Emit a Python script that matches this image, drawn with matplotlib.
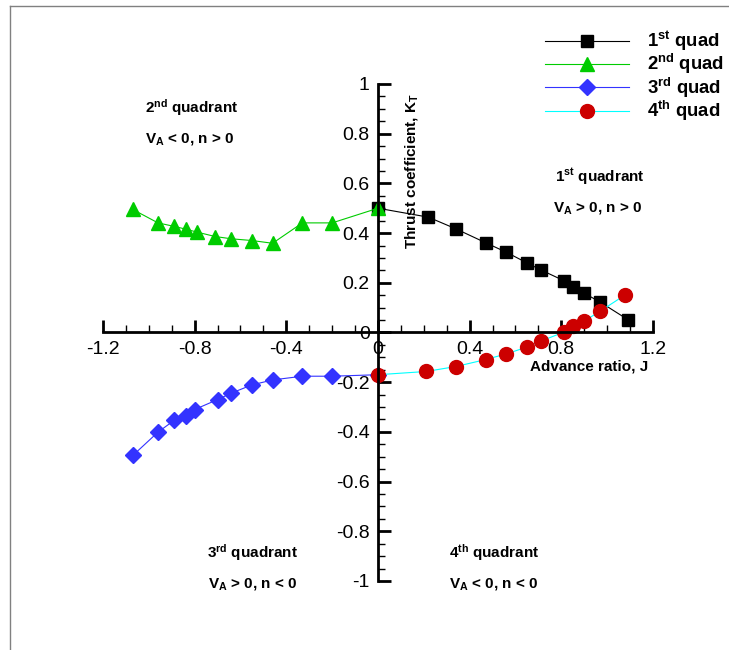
import numpy as np
import matplotlib
matplotlib.use("Agg")
import matplotlib.pyplot as plt
from matplotlib.lines import Line2D
from matplotlib.ticker import MultipleLocator, FuncFormatter

plt.rcParams["font.family"] = "Liberation Sans"
plt.rcParams["mathtext.fontset"] = "custom"
plt.rcParams["mathtext.rm"] = "Liberation Sans:bold"
plt.rcParams["mathtext.bf"] = "Liberation Sans:bold"
plt.rcParams["mathtext.default"] = "bf"
plt.rcParams["axes.unicode_minus"] = False

# advance ratio J and thrust coefficient KT for each quadrant
j_q1 = [0.0, 0.22, 0.34, 0.47, 0.56, 0.65, 0.71, 0.81, 0.85, 0.90, 0.97, 1.09]
kt_q1 = [0.50, 0.464, 0.417, 0.361, 0.323, 0.280, 0.252, 0.209, 0.182, 0.158, 0.122, 0.052]
j_q2 = [-1.07, -0.96, -0.89, -0.84, -0.79, -0.71, -0.64, -0.55, -0.46, -0.33, -0.20, 0.0]
kt_q2 = [0.495, 0.441, 0.427, 0.416, 0.404, 0.386, 0.377, 0.370, 0.359, 0.441, 0.441, 0.50]
j_q3 = [-1.07, -0.96, -0.89, -0.84, -0.80, -0.70, -0.64, -0.55, -0.46, -0.33, -0.20, 0.0]
kt_q3 = [-0.495, -0.401, -0.354, -0.337, -0.310, -0.270, -0.244, -0.211, -0.191, -0.176, -0.176, -0.17]
j_q4 = [0.0, 0.21, 0.34, 0.47, 0.56, 0.65, 0.71, 0.81, 0.85, 0.90, 0.97, 1.08]
kt_q4 = [-0.17, -0.157, -0.137, -0.109, -0.086, -0.059, -0.035, 0.001, 0.025, 0.046, 0.086, 0.152]

labels = [r"1$^{st}$ quad", r"2$^{nd}$ quad", r"3$^{rd}$ quad", r"4$^{th}$ quad"]

fig = plt.figure(figsize=(7.29, 6.5), dpi=100)
ax = fig.add_axes([0.1413, 0.1062, 0.7544, 0.7646])

# the grey page frame
fig.add_artist(Line2D([10 / 729, 10 / 729], [0, 1 - 6 / 650], color="#808080", lw=1))
fig.add_artist(Line2D([10 / 729, 1], [1 - 6 / 650, 1 - 6 / 650], color="#808080", lw=1))

ax.plot(j_q1, kt_q1, "-s", color="black", mfc="black", mec="black", lw=0.8, ms=8.5,
        label=labels[0], clip_on=False)
ax.plot(j_q2, kt_q2, "-^", color="#00CC00", mfc="#00CC00", mec="#00CC00", lw=0.8, ms=10,
        label=labels[1], clip_on=False)
ax.plot(j_q3, kt_q3, "-D", color="#3333FF", mfc="#3333FF", mec="#3333FF", lw=0.8, ms=8,
        label=labels[2], clip_on=False)
ax.plot(j_q4, kt_q4, "-o", color="#00FFFF", mfc="#CC0000", mec="#CC0000", lw=0.8, ms=10,
        label=labels[3], clip_on=False)

ax.set_xlim(-1.2, 1.2)
ax.set_ylim(-1, 1)
ax.spines["left"].set_position(("data", 0))
ax.spines["bottom"].set_position(("data", 0))
ax.spines["right"].set_visible(False)
ax.spines["top"].set_visible(False)
ax.spines["left"].set_linewidth(2)
ax.spines["bottom"].set_linewidth(2)

ax.xaxis.set_major_locator(MultipleLocator(0.4))
ax.xaxis.set_minor_locator(MultipleLocator(0.1))
ax.yaxis.set_major_locator(MultipleLocator(0.2))
ax.yaxis.set_minor_locator(MultipleLocator(0.05))
fmt = FuncFormatter(lambda v, p: "%g" % round(v, 2))
ax.xaxis.set_major_formatter(fmt)
ax.yaxis.set_major_formatter(fmt)
ax.tick_params(which="major", direction="in", length=9, width=2, labelsize=14, pad=6)
ax.tick_params(which="minor", direction="in", length=5, width=1)

ax.set_xlabel("Advance ratio, J", fontsize=11, fontweight="bold", ha="left", va="center")
ax.xaxis.set_label_coords(0.664, -0.137, transform=ax.transData)
ax.set_ylabel(r"Thrust coefficient, K$_T$", fontsize=11, fontweight="bold", va="center")
ax.yaxis.set_label_coords(0.148, 0.65, transform=ax.transData)

notes = [
    (-1.017, 0.905, r"2$^{nd}$ quadrant"),
    (-1.017, 0.777, r"V$_A$ < 0, n > 0"),
    (0.773, 0.628, r"1$^{st}$ quadrant"),
    (0.764, 0.499, r"V$_A$ > 0, n > 0"),
    (-0.747, -0.885, r"3$^{rd}$ quadrant"),
    (-0.743, -1.014, r"V$_A$ > 0, n < 0"),
    (0.310, -0.885, r"4$^{th}$ quadrant"),
    (0.310, -1.014, r"V$_A$ < 0, n < 0"),
]
for x, y, s in notes:
    ax.text(x, y, s, fontsize=11, fontweight="bold", ha="left", va="center")

ax.legend(loc="upper left", bbox_to_anchor=(545 / 729, 1 - 29 / 650), bbox_transform=fig.transFigure,
          frameon=False, borderpad=0, borderaxespad=0, handlelength=4.55, handletextpad=0.95,
          labelspacing=-0.04, prop={"size": 13.3, "weight": "bold"})

fig.savefig("out.png", dpi=100)
